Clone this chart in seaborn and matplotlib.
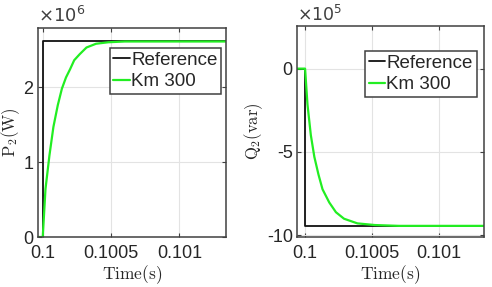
import numpy as np
import pandas as pd
import matplotlib
matplotlib.use('Agg')
import matplotlib.pyplot as plt
import seaborn as sns

# values
t_ref = [0.0999, 0.1, 0.1, 0.1015]
p_ref = [0, 0, 2.61e6, 2.61e6]
q_ref = [0, 0, -9.45e5, -9.45e5]

t_p = [0.0999, 0.1, 0.10002, 0.100049, 0.100078, 0.10011, 0.10014, 0.10017,
       0.1002, 0.10023, 0.10027, 0.10032, 0.10039, 0.10048, 0.1006, 0.1015]
p_km = [0, 0, 0.64e6, 1.09e6, 1.47e6, 1.76e6, 1.98e6, 2.13e6,
        2.24e6, 2.36e6, 2.44e6, 2.53e6, 2.58e6, 2.60e6, 2.61e6, 2.61e6]

t_q = [0.0999, 0.1, 0.100018, 0.100043, 0.100069, 0.1001, 0.10013, 0.10018,
       0.10023, 0.10029, 0.10039, 0.10052, 0.1007, 0.1015]
q_km = [0, 0, -2.16e5, -4.0e5, -5.3e5, -6.37e5, -7.25e5, -8.04e5,
        -8.63e5, -9.02e5, -9.3e5, -9.4e5, -9.45e5, -9.45e5]

xticks = [0.1, 0.1005, 0.101]
xticklabels = ['0.1', '0.1005', '0.101']

sns.set_style('whitegrid')
plt.rcParams['font.family'] = ['Liberation Sans', 'DejaVu Sans']
plt.rcParams['mathtext.fontset'] = 'cm'

fig = plt.figure(figsize=(4.92, 2.87), dpi=100)
ax1 = fig.add_axes([0.0766, 0.1742, 0.3827, 0.7282])
ax2 = fig.add_axes([0.6037, 0.1753, 0.380, 0.734])

green = '#22ee22'
edge = '#404040'


def style(ax, anchor):
    ax.grid(True, color='#e3e3e3', linewidth=0.8)
    for s in ax.spines.values():
        s.set_color(edge)
        s.set_linewidth(1.1)
    ax.tick_params(direction='in', length=3, width=0.8, color=edge,
                   labelsize=13, pad=3, top=True, right=True,
                   bottom=True, left=True, labelcolor='#262626')
    ax.tick_params(axis='x', pad=6)
    ax.set_xticks(xticks)
    ax.set_xticklabels(xticklabels)
    ax.set_xlabel(r'$\mathrm{Time(s)}$', fontsize=12.5, labelpad=1)
    leg = ax.legend(loc='upper right', bbox_to_anchor=anchor,
                    fontsize=13.5, frameon=True, fancybox=False,
                    handlelength=0.9, handletextpad=0.05, borderpad=0.2,
                    labelspacing=0.25, borderaxespad=0.0)
    leg.get_frame().set_edgecolor(edge)
    leg.get_frame().set_linewidth(1.1)
    leg.get_frame().set_alpha(1)


# P2 panel
dp_ref = pd.DataFrame({'t': t_ref, 'v': p_ref})
dp_km = pd.DataFrame({'t': t_p, 'v': p_km})
sns.lineplot(data=dp_ref, x='t', y='v', ax=ax1, color='#111111', lw=1.3,
             estimator=None, sort=False, label='Reference')
sns.lineplot(data=dp_km, x='t', y='v', ax=ax1, color=green, lw=1.6,
             estimator=None, sort=False, label='Km 300')
ax1.set_xlim(0.099963, 0.10134)
ax1.set_ylim(0, 2.79e6)
ax1.set_yticks([0, 1e6, 2e6])
ax1.set_yticklabels(['0', '1', '2'])
ax1.set_ylabel(r'$\mathrm{P_2(W)}$', fontsize=12, labelpad=1)
ax1.text(0.0, 1.01, r'$\times10^6$', transform=ax1.transAxes,
         fontsize=13, color='#404040', math_fontfamily='dejavusans',
         va='bottom')
style(ax1, (0.975, 0.906))

# Q2 panel
dq_ref = pd.DataFrame({'t': t_ref, 'v': q_ref})
dq_km = pd.DataFrame({'t': t_q, 'v': q_km})
sns.lineplot(data=dq_ref, x='t', y='v', ax=ax2, color='#111111', lw=1.3,
             estimator=None, sort=False, label='Reference')
sns.lineplot(data=dq_km, x='t', y='v', ax=ax2, color=green, lw=1.6,
             estimator=None, sort=False, label='Km 300')
ax2.set_xlim(0.09994, 0.101333)
ax2.set_ylim(-1.01e6, 2.56e5)
ax2.set_yticks([-1e6, -5e5, 0])
ax2.set_yticklabels(['-10', '-5', '0'])
ax2.set_ylabel(r'$\mathrm{Q_2(var)}$', fontsize=12, labelpad=1)
ax2.text(0.0, 1.01, r'$\times10^5$', transform=ax2.transAxes,
         fontsize=12.5, color='#404040', math_fontfamily='dejavusans',
         va='bottom')
style(ax2, (0.96, 0.883))

fig.savefig('out.png', dpi=100)
